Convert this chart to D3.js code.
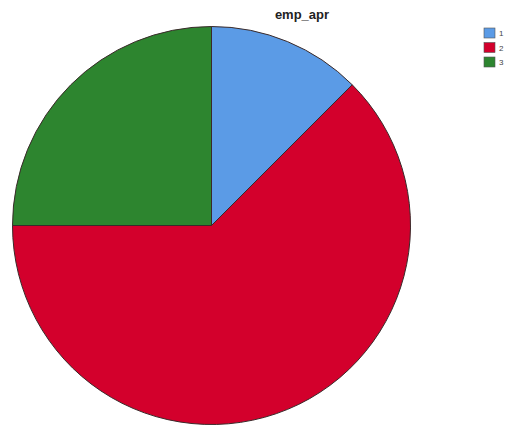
<!DOCTYPE html>
<html>
<head>
<meta charset="utf-8">
<script src="https://cdn.jsdelivr.net/npm/d3@7"></script>
<style>
  html, body { margin: 0; padding: 0; background: #ffffff; }
  svg { display: block; }
</style>
</head>
<body>
<svg id="chart" width="506" height="426"></svg>
<script>
const categories = ["1", "2", "3"];
const counts = [5, 25, 10];
const colors = ["#5b9be6", "#d3002c", "#2d852f"];
const title = "emp_apr";

const svg = d3.select("#chart");
const cx = 211.5, cy = 225.5, r = 199;

const pie = d3.pie().sort(null).value(d => d.v);
const arcs = pie(categories.map((c, i) => ({ c, v: counts[i] })));
const arc = d3.arc().innerRadius(0).outerRadius(r);
const color = d3.scaleOrdinal().domain(categories).range(colors);

svg.append("g")
  .attr("transform", `translate(${cx},${cy})`)
  .selectAll("path")
  .data(arcs)
  .join("path")
  .attr("d", arc)
  .attr("fill", d => color(d.data.c))
  .attr("stroke", "#3a2a2a")
  .attr("stroke-width", 1)
  .attr("stroke-linejoin", "round");

svg.append("text")
  .attr("x", 302)
  .attr("y", 19)
  .attr("text-anchor", "middle")
  .attr("font-family", "Liberation Sans, Arial, sans-serif")
  .attr("font-weight", "bold")
  .attr("font-size", 13)
  .attr("fill", "#222")
  .text(title);

const legend = svg.append("g").attr("transform", "translate(484,28)");
const item = legend.selectAll("g")
  .data(categories)
  .join("g")
  .attr("transform", (d, i) => `translate(0,${i * 14.5})`);
item.append("rect")
  .attr("width", 11)
  .attr("height", 10)
  .attr("fill", d => color(d))
  .attr("stroke", "#555")
  .attr("stroke-width", 0.6);
item.append("text")
  .attr("x", 15)
  .attr("y", 8)
  .attr("font-family", "Liberation Sans, Arial, sans-serif")
  .attr("font-size", 8)
  .attr("fill", "#444")
  .text(d => d);
</script>
</body>
</html>
